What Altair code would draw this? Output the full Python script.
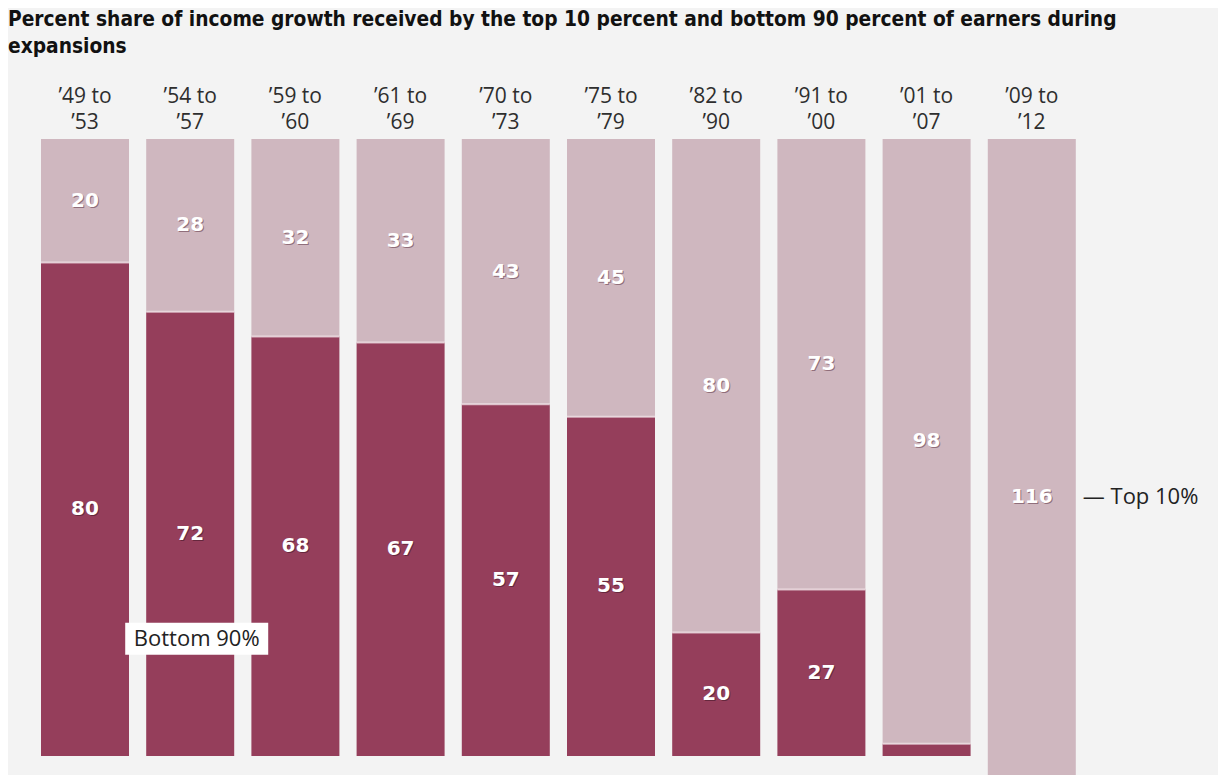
import altair as alt
import pandas as pd

periods = ["’49 to ’53", "’54 to ’57", "’59 to ’60", "’61 to ’69", "’70 to ’73",
           "’75 to ’79", "’82 to ’90", "’91 to ’00", "’01 to ’07", "’09 to ’12"]
bottom90 = [80, 72, 68, 67, 57, 55, 20, 27, 2, -16]
top10 = [20, 28, 32, 33, 43, 45, 80, 73, 98, 116]

ann_bottom_period = ["’54 to ’57"]
ann_bottom_value = [19]
ann_bottom_text = ["Bottom 90%"]
ann_top_text = ["— Top 10%"]

DARK = "#953e5b"
LIGHT = "#cfb7bf"
BG = "#f3f3f3"

df = pd.DataFrame({"period": periods, "bottom": bottom90, "top": top10})
df["total"] = df["bottom"] + df["top"]
df["split"] = df["total"] - df["top"]
df["dark_top"] = df["bottom"].clip(lower=0)
df["top_mid"] = (df["total"] + df["split"]) / 2
df["bot_mid"] = df["dark_top"] / 2

ydom = [-3.08, 100]
yscale = alt.Scale(domain=ydom, nice=False, zero=False)
xscale = alt.Scale(paddingInner=0.1635, paddingOuter=0.08175)
xaxis = alt.Axis(orient="top", title=None, domain=False, ticks=False, tickSize=0,
                 labelAngle=0, labelPadding=33, labelFontSize=21, labelFont="Open Sans",
                 labelColor="#2e2e2e", labelLineHeight=26, labelBaseline="bottom",
                 labelExpr="[substring(datum.label, 0, 6), substring(datum.label, 7)]")


def X(**kw):
    return alt.X("period:N", sort=periods, scale=xscale, axis=xaxis, **kw)


base = alt.Chart(df)

light = base.mark_bar(color=LIGHT, clip=True).encode(
    x=X(),
    y=alt.Y("total:Q", scale=yscale, axis=None),
    y2="split:Q",
)

dark = base.transform_filter("datum.dark_top > 0").mark_bar(color=DARK, clip=True).encode(
    x=X(),
    y=alt.Y("dark_top:Q", scale=yscale, axis=None),
)

sep = base.transform_filter("datum.dark_top > 0").mark_tick(
    color="#f7ecef", thickness=2, size=88, orient="horizontal").encode(
    x=X(),
    y=alt.Y("dark_top:Q", scale=yscale, axis=None),
)

lab_font = dict(font="DejaVu Sans", fontSize=20, fontWeight="bold", baseline="middle", align="center")

top_shadow = base.mark_text(color="#5e3444", opacity=0.55, dx=1, dy=1, **lab_font).encode(
    x=X(), y=alt.Y("top_mid:Q", scale=yscale, axis=None), text="top:Q")
top_lab = base.mark_text(color="white", **lab_font).encode(
    x=X(), y=alt.Y("top_mid:Q", scale=yscale, axis=None), text="top:Q")

bdf = base.transform_filter("datum.dark_top >= 10")
bot_shadow = bdf.mark_text(color="#3e1626", opacity=0.55, dx=1, dy=1, **lab_font).encode(
    x=X(), y=alt.Y("bot_mid:Q", scale=yscale, axis=None), text="bottom:Q")
bot_lab = bdf.mark_text(color="white", **lab_font).encode(
    x=X(), y=alt.Y("bot_mid:Q", scale=yscale, axis=None), text="bottom:Q")

ann_df = pd.DataFrame({"period": ann_bottom_period, "v": ann_bottom_value, "t": ann_bottom_text})
ann = alt.Chart(ann_df)
ann_box = ann.mark_point(shape="M-1,-0.2238H1V0.2238H-1Z", size=20449, filled=True,
                         color="white", opacity=1, strokeWidth=0).encode(
    x=X(bandPosition=0.574), y=alt.Y("v:Q", scale=yscale, axis=None))
ann_txt = ann.mark_text(font="Open Sans", fontSize=22, color="#222222", align="center",
                        baseline="middle").encode(
    x=X(bandPosition=0.574), y=alt.Y("v:Q", scale=yscale, axis=None), text="t:N")

tdf = df.iloc[[-1]].copy()
tdf["t"] = ann_top_text
top_ann = alt.Chart(tdf).mark_text(font="Open Sans", fontSize=22, color="#222222", align="left",
                                    baseline="middle", dx=7).encode(
    x=X(bandPosition=1), y=alt.Y("top_mid:Q", scale=yscale, axis=None), text="t:N")

chart = alt.layer(light, dark, sep, top_shadow, top_lab, bot_shadow, bot_lab,
                  ann_box, ann_txt, top_ann).properties(
    width=1052,
    height=636,
    title=alt.TitleParams(
        text=["Percent share of income growth received by the top 10 percent and bottom 90 percent of earners during",
              "expansions"],
        anchor="start", dx=-24.4, font="DejaVu Sans Condensed", fontSize=20.75, fontWeight="bold",
        color="#111111", lineHeight=27, offset=27),
    autosize=alt.AutoSizeParams(type="none"),
    padding={"left": 24.4, "top": 131, "right": 133.6, "bottom": 0},
).configure(background=BG).configure_view(stroke=None)

chart.save("out.html", embed_options={"renderer": "svg", "actions": False})
